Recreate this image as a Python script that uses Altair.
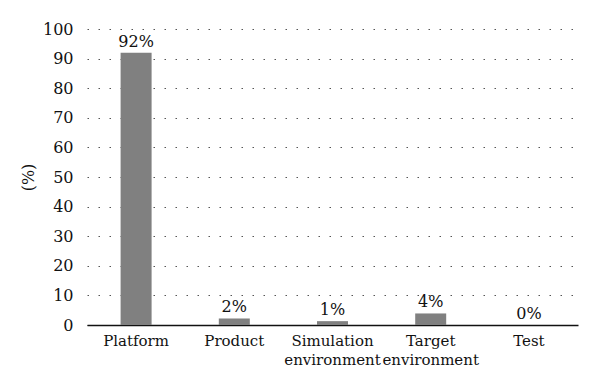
import altair as alt
import pandas as pd

categories = ["Platform", "Product", "Simulation\nenvironment", "Target\nenvironment", "Test"]
values = [92, 2.2, 1.3, 3.9, 0]
labels = ["92%", "2%", "1%", "4%", "0%"]

df = pd.DataFrame({"cat": categories, "val": values, "lab": labels})

FONT = "DejaVu Serif"

x = alt.X("cat:N", sort=categories, title=None,
          scale=alt.Scale(paddingInner=0, paddingOuter=0),
          axis=alt.Axis(labelAngle=0, labelExpr="split(datum.label, '\\n')",
                        labelFont=FONT, labelFontSize=15, labelColor="#111",
                        labelPadding=8, ticks=False, domainColor="#111",
                        domainWidth=1.5, grid=False, labelLineHeight=19))
y = alt.Y("val:Q", title="(%)",
          scale=alt.Scale(domain=[0, 100], nice=False),
          axis=alt.Axis(values=[0, 10, 20, 30, 40, 50, 60, 70, 80, 90, 100],
                        labelFont=FONT, labelOverlap=False,
                        labelFontSize=16, labelColor="#111", labelPadding=14,
                        ticks=False, domain=False, grid=True,
                        gridColor="#555", gridDash=[1.5, 9.5], gridWidth=1,
                        titleFont=FONT, titleFontSize=16, titleFontWeight="normal",
                        titleColor="#111", titlePadding=6))

base = alt.Chart(df).encode(x=x, y=y)
bars = base.mark_bar(width=31, color="#808080")
text = base.mark_text(baseline="bottom", dy=-3, font=FONT, fontSize=16,
                      color="#111").encode(text="lab:N")

chart = (bars + text).properties(
    width=491, height=296,
    autosize=alt.AutoSizeParams(type="none"),
    padding={"left": 79, "top": 21, "right": 10, "bottom": 50},
    background="white",
).configure_view(stroke=None)

chart.save("out.html", embed_options={"renderer": "svg", "actions": False})
